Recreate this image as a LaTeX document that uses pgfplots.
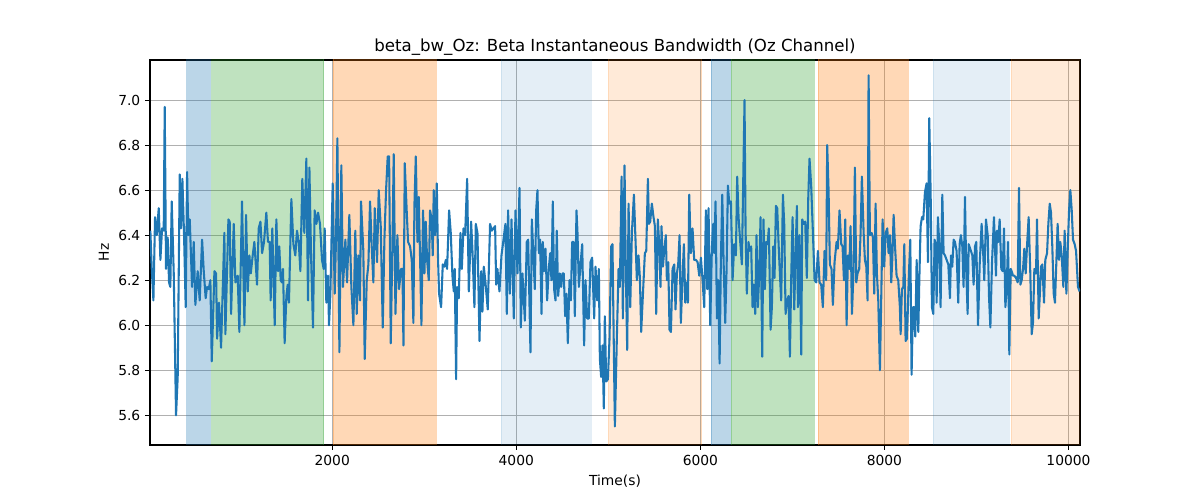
\documentclass[border=0pt]{standalone}
\usepackage{fontspec}
\setmainfont{DejaVu Sans}
\usepackage{pgfplots}
\pgfplotsset{compat=1.18}
\usepackage{pgfplotstable}
\definecolor{tabblue}{RGB}{31,119,180}
\definecolor{tabgreen}{RGB}{44,160,44}
\definecolor{taborange}{RGB}{255,127,14}
\definecolor{gridgray}{RGB}{176,176,176}

\pgfplotstableread{
t hz
24 6.42
38 6.26
57 6.11
75 6.48
93 6.40
115 6.52
133 6.29
151 6.43
169 6.42
180 6.97
194 6.25
212 6.39
227 6.19
241 6.17
256 6.55
278 6.23
303 5.60
321 5.77
343 6.67
357 6.43
372 6.65
390 6.40
408 6.08
423 6.68
437 6.40
452 6.47
477 6.17
495 6.37
513 6.09
538 6.24
560 6.11
586 6.38
604 6.24
625 6.12
640 6.17
658 6.16
676 6.20
691 5.84
720 6.24
738 6.23
749 5.94
770 6.10
792 5.90
828 6.41
839 5.96
872 6.47
886 6.46
901 6.05
930 6.45
948 6.19
973 6.22
991 5.97
1020 6.55
1046 6.00
1064 6.49
1082 6.15
1100 6.31
1115 6.23
1136 6.31
1154 6.37
1183 6.18
1201 6.43
1220 6.46
1238 6.32
1259 6.37
1284 6.50
1302 6.37
1320 6.37
1331 6.11
1349 6.43
1375 6.00
1393 6.47
1411 6.24
1425 6.35
1440 6.20
1454 6.19
1465 6.25
1483 5.92
1502 6.13
1516 6.18
1530 6.10
1556 6.56
1578 6.36
1599 6.31
1617 6.42
1636 6.37
1654 6.24
1675 6.65
1697 6.41
1719 6.74
1737 6.11
1752 6.70
1770 6.31
1791 5.99
1809 6.51
1828 6.45
1846 6.50
1867 6.45
1889 6.29
1907 6.25
1918 6.43
1936 6.10
1954 6.22
1965 6.00
1980 6.14
2005 6.63
2027 6.14
2041 6.38
2056 6.83
2078 5.88
2099 6.71
2117 6.17
2143 6.38
2161 6.19
2186 6.49
2208 6.17
2230 6.00
2251 6.42
2266 6.05
2284 6.31
2302 6.11
2313 6.55
2338 6.33
2353 5.85
2375 6.20
2393 6.27
2411 6.55
2429 6.35
2447 6.19
2462 6.52
2487 6.28
2505 6.60
2527 6.44
2549 5.99
2567 6.38
2585 6.60
2603 6.75
2618 6.75
2636 5.92
2658 6.46
2668 6.76
2687 6.05
2708 6.40
2726 6.16
2748 6.25
2763 6.25
2774 5.91
2788 6.72
2810 6.50
2824 6.37
2846 6.35
2864 6.29
2882 6.01
2893 6.53
2908 6.75
2926 6.37
2940 6.57
2955 6.29
2969 6.00
2987 6.51
3002 6.23
3016 6.46
3031 6.29
3049 6.20
3063 6.51
3081 6.47
3092 6.31
3103 6.60
3118 6.40
3136 6.63
3150 6.29
3161 6.14
3183 6.08
3201 6.27
3219 6.26
3234 6.29
3248 6.25
3270 6.51
3288 6.41
3306 6.22
3321 6.15
3331 6.25
3346 5.76
3357 6.17
3375 6.12
3393 6.41
3408 6.25
3426 6.43
3444 6.40
3466 6.65
3484 6.15
3509 6.46
3523 6.34
3545 6.08
3560 6.45
3578 6.41
3600 5.93
3618 6.24
3632 6.06
3647 6.26
3665 6.19
3690 6.07
3715 6.45
3734 6.42
3752 6.43
3770 6.44
3781 6.18
3795 6.25
3817 6.15
3839 6.31
3861 6.38
3882 6.45
3897 6.05
3911 6.51
3930 6.14
3948 6.47
3973 6.03
3991 6.51
4013 6.23
4035 6.61
4049 5.99
4067 6.23
4093 6.02
4114 6.37
4129 6.38
4154 5.88
4169 6.47
4187 6.30
4201 6.16
4216 6.51
4230 6.60
4245 6.32
4259 6.38
4274 6.05
4288 6.37
4303 6.24
4317 6.34
4335 6.11
4353 6.25
4368 6.32
4382 6.20
4397 6.55
4411 6.16
4426 6.11
4440 6.42
4455 6.13
4473 6.23
4488 6.17
4502 6.23
4516 6.23
4531 6.04
4545 6.14
4560 5.92
4578 6.20
4593 6.11
4607 6.37
4622 6.37
4636 6.04
4654 6.51
4665 6.41
4680 6.17
4698 6.27
4716 6.36
4737 5.91
4752 6.20
4770 6.03
4788 6.03
4806 6.28
4824 6.30
4846 6.03
4861 6.26
4879 6.11
4897 6.25
4908 5.85
4922 5.77
4937 5.91
4951 5.63
4962 6.04
4977 5.75
4995 5.76
5013 5.94
5031 6.35
5045 6.36
5071 5.55
5093 5.95
5111 6.25
5125 6.17
5144 6.66
5158 6.03
5176 6.71
5191 6.22
5205 5.89
5220 6.54
5238 6.08
5256 6.41
5278 6.58
5296 6.37
5310 6.20
5328 6.31
5343 6.21
5357 5.97
5375 6.13
5397 6.32
5412 6.33
5430 6.65
5441 6.45
5455 6.46
5473 6.54
5491 6.48
5506 6.44
5520 6.05
5538 6.47
5553 6.36
5567 6.17
5578 6.44
5593 6.26
5607 6.33
5625 6.40
5636 6.20
5651 6.28
5665 5.98
5680 5.97
5698 6.25
5716 6.27
5730 6.07
5745 6.23
5759 6.27
5774 6.40
5788 6.01
5807 6.22
5821 6.36
5836 6.10
5850 6.19
5865 6.10
5879 6.58
5897 6.32
5915 6.43
5933 6.29
5952 6.29
5970 6.28
5988 6.22
6006 6.30
6024 6.20
6042 6.08
6060 6.51
6075 6.16
6089 6.52
6107 6.00
6125 6.34
6140 6.45
6151 6.32
6165 6.55
6180 6.03
6194 6.20
6209 5.83
6223 6.29
6238 6.58
6252 6.29
6270 6.01
6285 6.25
6299 6.62
6314 6.54
6332 6.55
6350 6.20
6368 6.36
6386 6.31
6400 6.66
6415 6.48
6433 6.37
6451 6.27
6480 7.00
6491 6.43
6505 6.14
6523 6.37
6534 6.33
6552 6.35
6567 6.08
6581 6.18
6596 6.05
6610 6.40
6625 6.08
6639 6.22
6654 6.48
6672 5.86
6686 6.47
6701 6.16
6715 6.37
6730 6.36
6744 6.43
6763 5.98
6777 6.08
6792 6.35
6806 6.21
6821 6.53
6835 6.52
6850 6.36
6864 6.23
6878 6.11
6897 6.58
6911 6.45
6926 6.05
6944 6.11
6958 6.13
6973 5.86
6987 6.21
7002 6.48
7020 6.07
7034 6.31
7049 6.53
7060 6.08
7078 6.40
7096 5.87
7107 6.47
7121 6.45
7139 6.46
7157 6.21
7172 6.56
7186 6.74
7204 6.62
7223 6.41
7241 6.20
7259 6.19
7277 6.33
7295 6.19
7313 6.18
7331 6.08
7349 6.33
7367 6.20
7378 6.80
7393 6.60
7407 6.27
7425 6.25
7440 6.09
7458 6.28
7480 6.37
7494 6.34
7512 6.51
7531 6.36
7545 6.35
7560 6.20
7574 6.47
7589 6.00
7603 6.31
7618 6.25
7632 6.44
7647 6.05
7665 6.25
7679 6.70
7694 6.19
7708 6.23
7726 6.25
7741 6.41
7755 6.66
7774 6.41
7788 6.29
7803 6.26
7817 6.11
7828 7.11
7842 6.40
7861 6.41
7875 6.39
7889 6.14
7904 6.54
7918 6.23
7933 6.11
7951 5.80
7966 6.14
7980 6.47
7998 6.26
8013 6.41
8031 6.43
8045 6.32
8060 6.40
8074 6.19
8085 6.29
8100 6.49
8114 6.36
8132 6.22
8150 6.20
8168 6.08
8176 5.96
8190 6.16
8205 6.17
8216 6.36
8230 5.93
8245 5.94
8266 6.23
8281 6.38
8295 5.78
8310 6.08
8324 6.08
8335 5.95
8350 6.29
8368 5.97
8379 6.20
8393 6.44
8408 6.48
8422 6.47
8440 6.59
8458 6.63
8473 6.28
8487 6.92
8502 6.59
8516 6.08
8531 6.05
8545 6.38
8560 6.35
8567 6.10
8581 6.48
8596 6.36
8610 6.08
8629 6.58
8643 6.32
8658 6.31
8676 6.29
8694 6.27
8712 6.12
8723 6.31
8737 6.26
8752 6.38
8766 6.37
8784 6.33
8802 6.10
8817 6.36
8831 6.40
8846 6.35
8860 6.17
8875 6.57
8889 6.24
8904 6.05
8915 6.36
8940 6.33
8955 6.31
8969 6.18
8984 6.35
8998 6.37
9017 6.00
9035 6.27
9056 6.45
9074 6.31
9085 6.20
9103 6.47
9122 6.40
9136 6.13
9151 5.99
9169 6.28
9190 6.48
9212 6.22
9223 6.42
9237 6.37
9252 6.47
9270 6.25
9285 6.24
9299 6.43
9314 6.08
9328 6.16
9343 6.37
9357 5.87
9372 6.25
9382 6.24
9397 6.22
9411 6.22
9430 6.21
9448 6.19
9462 6.61
9477 6.18
9491 6.20
9506 6.25
9520 6.34
9535 6.23
9549 6.35
9567 6.48
9585 6.23
9600 5.96
9614 6.01
9629 6.25
9647 6.23
9658 6.47
9676 6.03
9690 6.15
9701 6.26
9716 6.27
9734 6.10
9748 6.29
9767 6.32
9781 6.45
9796 6.54
9810 6.50
9824 6.35
9839 6.14
9853 6.10
9868 6.28
9882 6.45
9897 6.29
9911 6.37
9926 6.31
9944 6.17
9958 6.42
9977 6.14
9991 6.33
10006 6.51
10020 6.60
10035 6.51
10049 6.38
10067 6.36
10082 6.33
10103 6.17
10121 6.15
}\datatable

\begin{document}
\begin{tikzpicture}
\useasboundingbox (-108bp,-39.6bp) rectangle (756bp,320.4bp);
\begin{axis}[
  at={(0,0)}, anchor=south west,
  scale only axis, width=669.6bp, height=277.2bp,
  xmin=20, xmax=10125, ymin=5.468, ymax=7.178,
  xtick={2000,4000,6000,8000,10000},
  ytick={5.6,5.8,6.0,6.2,6.4,6.6,6.8,7.0},
  scaled x ticks=false,
  tick pos=left, tick align=outside,
  major tick length=3.5pt,
  every tick/.style={black, line width=0.8pt},
  axis line style={line width=0.8pt},
  grid=major,
  major grid style={gridgray, line width=0.8pt},
  /pgf/number format/assume math mode=true,
  xticklabel style={/pgf/number format/1000 sep={}, font=\fontsize{10}{12}\selectfont},
  yticklabel style={/pgf/number format/.cd, fixed, fixed zerofill, precision=1, /tikz/font=\fontsize{10}{12}\selectfont},
  xlabel={Time(s)}, ylabel={Hz},
  label style={font=\fontsize{10}{12}\selectfont},
  title={beta\_bw\_Oz: Beta Instantaneous Bandwidth (Oz Channel)},
  title style={font=\fontsize{12}{14}\selectfont, yshift=-6.5bp},
]
\addplot[draw=tabblue, fill=tabblue, fill opacity=0.3, draw opacity=0.3, forget plot] coordinates {(418,5) (418,7.5) (676,7.5) (676,5)} -- cycle;
\addplot[draw=tabgreen, fill=tabgreen, fill opacity=0.3, draw opacity=0.3, forget plot] coordinates {(690,5) (690,7.5) (1908,7.5) (1908,5)} -- cycle;
\addplot[draw=taborange, fill=taborange, fill opacity=0.3, draw opacity=0.3, forget plot] coordinates {(2009,5) (2009,7.5) (3128,7.5) (3128,5)} -- cycle;
\addplot[draw=tabblue, fill=tabblue, fill opacity=0.12, draw opacity=0.12, forget plot] coordinates {(3839,5) (3839,7.5) (4817,7.5) (4817,5)} -- cycle;
\addplot[draw=taborange, fill=taborange, fill opacity=0.16, draw opacity=0.16, forget plot] coordinates {(4995,5) (4995,7.5) (6013,7.5) (6013,5)} -- cycle;
\addplot[draw=tabblue, fill=tabblue, fill opacity=0.3, draw opacity=0.3, forget plot] coordinates {(6114,5) (6114,7.5) (6320,7.5) (6320,5)} -- cycle;
\addplot[draw=tabgreen, fill=tabgreen, fill opacity=0.3, draw opacity=0.3, forget plot] coordinates {(6332,5) (6332,7.5) (7234,7.5) (7234,5)} -- cycle;
\addplot[draw=taborange, fill=taborange, fill opacity=0.3, draw opacity=0.3, forget plot] coordinates {(7277,5) (7277,7.5) (8255,7.5) (8255,5)} -- cycle;
\addplot[draw=tabblue, fill=tabblue, fill opacity=0.12, draw opacity=0.12, forget plot] coordinates {(8527,5) (8527,7.5) (9356,7.5) (9356,5)} -- cycle;
\addplot[draw=taborange, fill=taborange, fill opacity=0.16, draw opacity=0.16, forget plot] coordinates {(9375,5) (9375,7.5) (10300,7.5) (10300,5)} -- cycle;
\addplot[tabblue, line width=1.5pt, line join=round, mark=none] table[x=t, y=hz] {\datatable};
\end{axis}
\end{tikzpicture}
\end{document}
